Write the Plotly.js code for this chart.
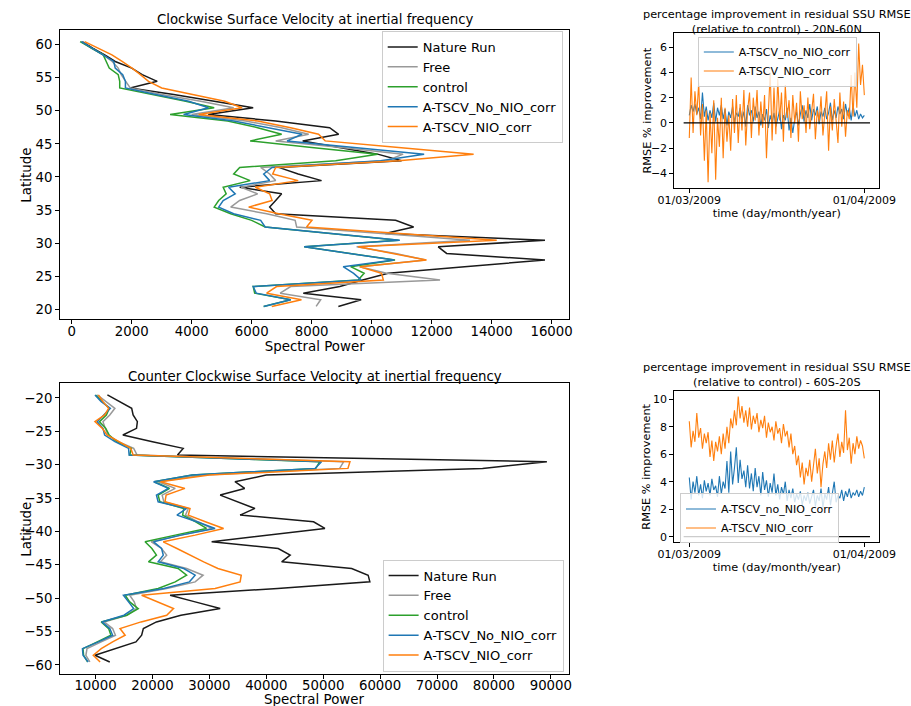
<!DOCTYPE html>
<html><head><meta charset="utf-8">
<script src="https://cdn.plot.ly/plotly-3.0.1.min.js"></script>
<style>html,body{margin:0;padding:0;background:#fff}#chart{width:911px;height:706px}</style>
</head><body><div id="chart"></div>
<script>
// ---------- data ----------
const seriesNames = ['Nature Run','Free','control','A-TSCV_No_NIO_corr','A-TSCV_NIO_corr'];
const tsNames = ['A-TSCV_no_NIO_corr','A-TSCV_NIO_corr'];

const latNorth = [60.45,59.45,58.45,57.45,56.45,55.45,54.45,53.45,52.45,51.45,50.45,49.45,48.45,47.45,46.45,45.45,44.45,43.45,42.45,41.45,40.45,39.45,38.45,37.45,36.45,35.45,34.45,33.45,32.45,31.45,30.45,29.45,28.45,27.45,26.45,25.45,24.45,23.45,22.45,21.45,20.45];
const natureNorth = [350,700,1100,1450,2000,2350,2850,1950,3400,4800,6050,4550,6800,8600,8900,7700,9000,10200,11000,6900,7550,8330,5600,7000,6800,6600,6800,10800,11400,10450,15780,12220,12500,15780,13100,10550,9700,8940,7720,9650,8890];
const freeNorth = [330,650,1050,1350,1550,1650,1800,1950,3000,4300,5400,4000,5800,7000,7900,6800,9000,11050,10500,6300,6600,6800,5650,6200,5600,5300,6500,7450,7500,10500,13280,9500,10800,11800,9600,10500,12280,7300,6950,8300,8150];
const controlNorth = [280,650,1050,1150,1250,1550,1600,1600,2700,3800,4750,3280,5200,6200,7000,5950,8000,10200,8800,5600,5400,5950,5050,5150,4900,4750,5300,6000,6450,8600,10900,7750,9200,10780,9300,9750,9550,6050,6100,7300,6400];
const noNioNorth = [320,680,1070,1400,1450,1700,1790,1790,2800,3900,4560,3730,5400,6600,7680,7180,9500,11750,10300,6680,6400,6600,5230,5450,5050,4900,5400,6300,6450,8700,10940,7750,9200,10750,9050,9400,9650,6050,6150,7300,6400];
const nioNorth = [430,900,1340,1680,2010,2290,2560,3000,4100,5100,5680,4230,6200,7300,8230,8450,10900,13400,10900,6800,6700,7550,6120,6600,6680,5900,6900,8010,7830,11000,14170,9550,10700,11830,9610,10330,10390,6830,6500,7660,6670];

const latSouth = [-19.55,-20.55,-21.55,-22.55,-23.55,-24.55,-25.55,-26.55,-27.55,-28.55,-29.55,-30.55,-31.55,-32.55,-33.55,-34.55,-35.55,-36.55,-37.55,-38.55,-39.55,-40.55,-41.55,-42.55,-43.55,-44.55,-45.55,-46.55,-47.55,-48.55,-49.55,-50.55,-51.55,-52.55,-53.55,-54.55,-55.55,-56.55,-57.55,-58.55,-59.55];
const natureSouth = [12080,14300,16350,16600,17350,17200,14800,20000,25400,24400,89300,78000,40000,34500,36200,31900,34800,38000,35400,48300,50300,40500,30400,42100,44200,42700,55000,57900,58200,42000,23100,27500,31900,25000,20700,18400,18100,17100,13400,9900,12500];
const freeSouth = [10300,11900,13400,12500,11300,11700,12200,14000,16700,17300,53600,52900,29000,21000,24000,21700,22000,26300,25800,28000,30500,25000,19800,21600,22500,21400,26000,28900,27500,22500,16000,16800,17200,15500,11500,13000,13500,11000,8500,8300,9000];
const controlSouth = [10000,11200,12400,11900,10700,11800,12400,13700,16300,16000,49400,48700,27000,20300,23000,21000,21300,25500,25300,27600,29500,24000,18700,19900,20700,19300,24500,26000,24000,21000,15200,16000,17500,15500,11000,12300,12700,10300,7800,7900,8600];
const noNioSouth = [9900,11000,12600,11500,10300,11300,11600,13400,15800,15900,49700,48600,27000,20200,22800,20700,21000,26000,24300,27800,31000,25000,20200,21600,21900,21000,25500,27500,26500,22000,14900,15800,16700,15000,11100,12500,13000,10500,7700,7800,8700];
const nioSouth = [10500,11300,12300,11600,9900,11200,12000,14100,16200,16600,54700,54350,30000,21400,25700,22400,22200,26600,26300,29300,32500,27500,21900,24300,26600,29000,31500,35600,35400,31000,18100,21000,23700,22500,18000,14300,15200,13000,11000,9600,10800];

// time in days since 01/03/2009
const timeDays = [0,0.33,0.67,1,1.33,1.67,2,2.33,2.67,3,3.33,3.67,4,4.33,4.67,5,5.33,5.67,6,6.33,6.67,7,7.33,7.67,8,8.33,8.67,9,9.33,9.67,10,10.33,10.67,11,11.33,11.67,12,12.33,12.67,13,13.33,13.67,14,14.33,14.67,15,15.33,15.67,16,16.33,16.67,17,17.33,17.67,18,18.33,18.67,19,19.33,19.67,20,20.33,20.67,21,21.33,21.67,22,22.33,22.67,23,23.33,23.67,24,24.33,24.67,25,25.33,25.67,26,26.33,26.67,27,27.33,27.67,28,28.33,28.67,29,29.33,29.67,30,30.33,30.67,31];
const timeTickVals = [0,31];
const timeTickText = ['01/03/2009','01/04/2009'];
const zeroLineX = [-1,32];
const zeroLineY = [0,0];

const rmseNoNioN = [0.6,1.4,0.9,1.5,0.7,1.2,0.3,2.4,0.5, 1.3,0.2,1.0,0.4,1.6,0.1,1.2,0.6,1.4, 0.3,1.1,-0.2,0.9,0.4,1.3,0.0,0.8,0.5, 1.2,0.2,0.9,-0.3,1.4,0.6,1.0,0.1,1.3, 0.4,0.9,-0.2,0.7,0.2,1.1,-0.4,0.6,0.0, 0.8,-0.3,0.5,1.0,-0.5,0.6,0.2,1.2,-0.6, 0.4,-0.8,0.3,0.9,-0.2,0.7,1.4,0.1,1.0, 0.4,1.5,0.2,1.1,0.6,1.3,-0.1,0.9,0.5, 1.2,0.3,0.8,1.6,0.2,1.0,0.4,1.3,0.7, 1.1,0.3,1.5,0.6,1.2,0.2,1.4,0.5,1.0, 0.3,0.7,0.4,0.6];
const rmseNioN = [-1.2,3.6,-0.8,2.5,0.6,3.2,-1.0,1.5,-3.0, 1.0,-4.7,0.8,-2.4,1.8,-4.5,0.4,-1.9,2.0, -2.8,1.2,-1.5,0.6,-2.2,1.9,-0.8,2.2,-1.6, 1.5,-0.6,2.6,-1.8,1.0,2.4,-1.2,2.0,0.2, 2.6,-1.0,1.7,-0.4,2.2,-2.8,0.8,4.0,-1.4, 2.8,-0.9,3.5,0.2,2.4,-1.5,3.0,0.4,1.8, -1.2,2.2,0.0,1.6,-1.5,2.5,0.3,1.4,-0.8, 2.0,-0.5,1.2,2.3,-1.3,1.0,0.1,2.1,-1.0, 0.6,2.5,-2.2,1.3,-0.6,1.9,0.2,-1.6,2.4, -0.3,1.7,-1.1,1.0,0.3,3.8,0.5,4.0,1.2, 6.3,3.0,4.6,2.2];
const rmseNoNioS = [4.3,2.7,4.0,3.2,4.4,3.0,3.8,2.8,4.1, 3.3,3.9,3.0,4.2,3.4,3.7,2.9,4.4,3.1, 4.0,3.5,5.5,3.2,6.2,3.8,5.0,6.5,3.9, 5.6,4.2,4.8,3.6,5.2,3.5,4.6,3.3,5.0, 3.6,4.4,3.0,4.7,3.4,4.1,2.9,3.9,3.2, 4.6,3.0,3.8,2.7,3.6,3.1,4.0,2.6,3.4, 2.8,3.5,2.5,3.1,2.7,3.3,2.3,3.0,2.6, 3.2,2.4,2.9,3.4,2.2,3.0,2.6,3.5,2.1, 3.1,2.7,3.6,2.3,3.2,4.0,2.5,3.0,2.8, 3.4,2.6,3.3,2.9,3.5,2.8,3.2,3.0,3.4, 2.9,3.3,3.0,3.6];
const rmseNioS = [8.4,6.5,7.7,6.9,9.0,7.2,7.9,6.4,7.5, 6.8,7.6,5.8,7.0,5.5,6.9,6.2,7.3,6.0, 7.5,6.4,8.0,6.8,8.6,7.9,9.2,8.1,10.2, 8.6,9.5,8.3,9.2,8.0,9.4,7.8,8.8,8.2, 9.0,7.6,8.5,7.9,8.8,7.2,8.3,7.6,8.0, 7.0,8.4,7.5,7.9,6.8,8.2,7.3,7.7,6.5, 7.5,6.0,6.6,5.2,5.9,4.3,5.4,3.8,5.0, 4.4,5.6,4.0,5.2,6.4,4.6,5.7,3.6,5.3, 6.2,5.0,6.8,5.6,7.0,5.4,6.6,7.5,5.8, 6.9,6.1,9.2,6.3,7.2,5.3,6.8,6.0,7.3, 6.4,7.0,6.6,5.7];

// ---------- styles ----------
const colors = ['#1a1a1a','#999999','#2ca02c','#1f77b4','#ff7f0e'];
const tsColors = ['#1f77b4','#ff7f0e'];
const FONT = 'DejaVu Sans, Verdana, sans-serif';

const traces = [];
const north = [natureNorth, freeNorth, controlNorth, noNioNorth, nioNorth];
const south = [natureSouth, freeSouth, controlSouth, noNioSouth, nioSouth];
north.forEach((v,i)=>traces.push({type:'scatter',mode:'lines',x:v,y:latNorth,name:seriesNames[i],
  line:{color:colors[i],width:1.5},xaxis:'x',yaxis:'y',legend:'legend'}));
south.forEach((v,i)=>traces.push({type:'scatter',mode:'lines',x:v,y:latSouth,name:seriesNames[i],
  line:{color:colors[i],width:1.5},xaxis:'x2',yaxis:'y2',legend:'legend2'}));
[rmseNoNioN, rmseNioN].forEach((v,i)=>traces.push({type:'scatter',mode:'lines',x:timeDays,y:v,name:tsNames[i],
  line:{color:tsColors[i],width:1.1},xaxis:'x3',yaxis:'y3',legend:'legend3'}));
traces.push({type:'scatter',mode:'lines',x:zeroLineX,y:zeroLineY,showlegend:false,line:{color:'#000',width:1.2},xaxis:'x3',yaxis:'y3'});
[rmseNoNioS, rmseNioS].forEach((v,i)=>traces.push({type:'scatter',mode:'lines',x:timeDays,y:v,name:tsNames[i],
  line:{color:tsColors[i],width:1.1},xaxis:'x4',yaxis:'y4',legend:'legend4'}));
traces.push({type:'scatter',mode:'lines',x:zeroLineX,y:zeroLineY,showlegend:false,line:{color:'#000',width:1.2},xaxis:'x4',yaxis:'y4'});

function ax(extra, fs){
  return Object.assign({showline:true,mirror:true,linecolor:'#000',linewidth:1,ticks:'outside',ticklen:4,
    tickcolor:'#000',tickwidth:1,showgrid:false,zeroline:false,automargin:false,tickformat:'d',
    tickfont:{family:FONT,size:fs,color:'#000'}},extra);
}
const legBase = {bgcolor:'rgba(255,255,255,0.8)',bordercolor:'#cccccc',borderwidth:1,xanchor:'left',yanchor:'top'};
function ann(text,x,y,size,angle){
  return {text:text,xref:'paper',yref:'paper',x:x,y:y,xanchor:'center',yanchor:'middle',showarrow:false,
    textangle:angle||0,font:{family:FONT,size:size,color:'#000'}};
}

const layout = {
  width:911,height:706,margin:{l:0,r:0,t:0,b:0},paper_bgcolor:'#fff',plot_bgcolor:'#fff',
  font:{family:FONT,color:'#000'},
  xaxis: ax({domain:[0.0659,0.6249],anchor:'y',range:[-390,16590],tick0:0,dtick:2000,ticklabelstandoff:-4,
    title:{text:'Spectral Power',font:{family:FONT,size:13.4},standoff:2}},13.3),
  yaxis: ax({domain:[0.5477,0.9575],anchor:'x',range:[18.5,62.2],tick0:0,dtick:5},13.3),
  xaxis2: ax({domain:[0.0659,0.6249],anchor:'y2',range:[3760,93240],tick0:0,dtick:10000,ticklabelstandoff:-5},13.3),
  yaxis2: ax({domain:[0.0449,0.4571],anchor:'x2',range:[-61.4,-17.8],tick0:0,dtick:5},13.3),
  xaxis3: ax({domain:[0.7402,0.9652],anchor:'y3',range:[-2.65,33.65],tickmode:'array',tickvals:timeTickVals,ticktext:timeTickText,ticklabelstandoff:-2,
    title:{text:'time (day/month/year)',font:{family:FONT,size:11.3},standoff:0}},11),
  yaxis3: ax({domain:[0.7341,0.9528],anchor:'x3',range:[-5.14,7.1],tick0:0,dtick:2},11),
  xaxis4: ax({domain:[0.7402,0.9652],anchor:'y4',range:[-2.65,33.65],tickmode:'array',tickvals:timeTickVals,ticktext:timeTickText,ticklabelstandoff:-2,
    title:{text:'time (day/month/year)',font:{family:FONT,size:11.3},standoff:0}},11),
  yaxis4: ax({domain:[0.2319,0.4462],anchor:'x4',range:[-0.41,10.6],tick0:0,dtick:2},11),
  legend: Object.assign({x:0.419,y:0.9561,font:{family:FONT,size:13}},legBase),
  legend2: Object.assign({x:0.420,y:0.2075,font:{family:FONT,size:13}},legBase),
  legend3: Object.assign({x:0.766,y:0.9483,font:{family:FONT,size:11}},legBase),
  legend4: Object.assign({x:0.7464,y:0.3010,font:{family:FONT,size:11}},legBase),
  annotations:[
    ann('Clockwise Surface Velocity at inertial frequency',0.3454,0.9717,13.3),
    ann('Counter Clockwise Surface Velocity at inertial frequency',0.3454,0.4674,13.3),
    ann('percentage improvement in residual SSU RMSE<br>(relative to control) - 20N-60N',0.8527,0.9695,11.3),
    ann('percentage improvement in residual SSU RMSE<br>(relative to control) - 60S-20S',0.8527,0.4695,11.3),
    ann('Latitude',0.0296,0.7526,13.4,-90),
    ann('Latitude',0.0296,0.2510,13.4,-90),
    ann('RMSE % improvement',0.7102,0.8435,11.3,-90),
    ann('RMSE % improvement',0.7102,0.3390,11.3,-90),
    Object.assign(ann('Spectral Power',0.3454,0.0,13.4),{yanchor:'bottom',yshift:-3})
  ]
};
Plotly.newPlot('chart',traces,layout,{displayModeBar:false,responsive:false});
</script></body></html>
